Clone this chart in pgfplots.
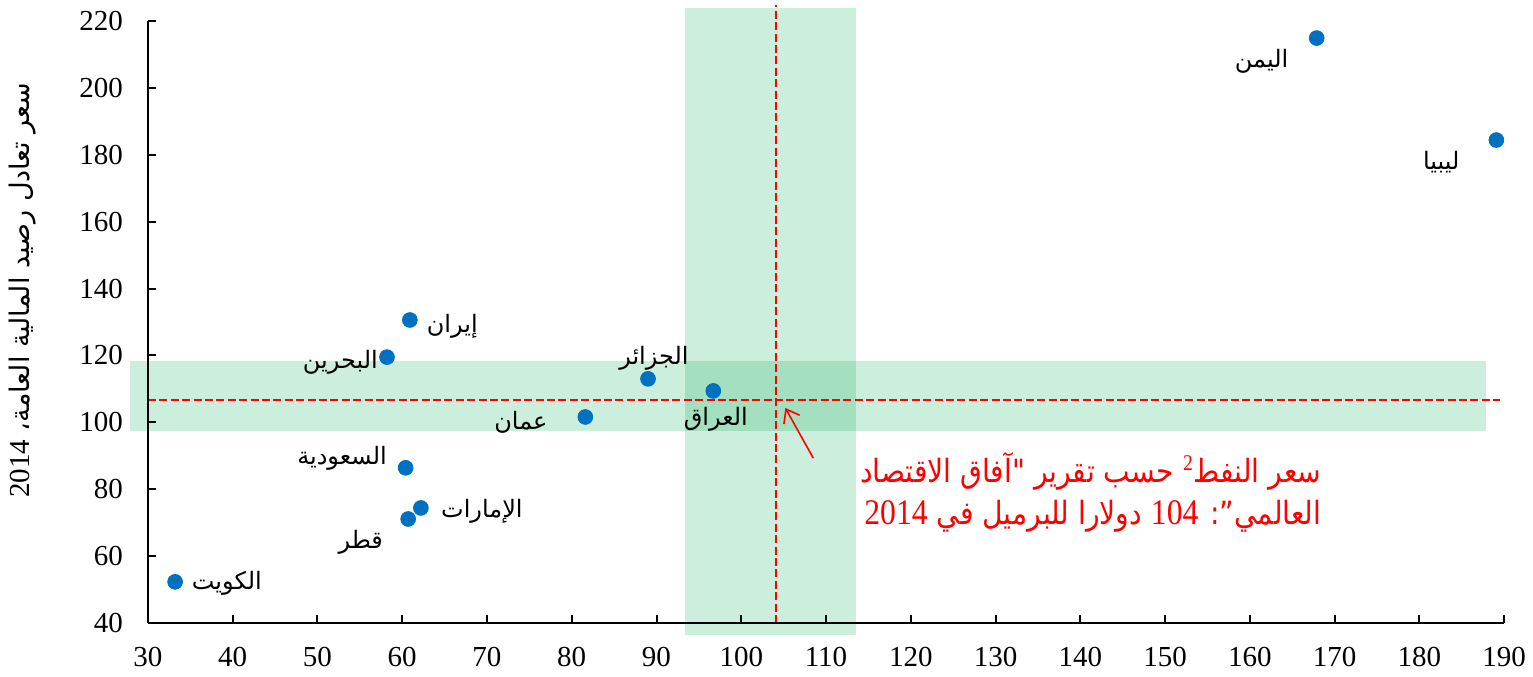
\documentclass[border=0pt]{standalone}
\usepackage{fontspec}
\usepackage{graphicx}
\setmainfont{Liberation Serif}
\newfontfamily\arabicfont[Script=Arabic]{DejaVu Sans}
\newfontfamily\latinserif{Liberation Serif}
\usepackage{pgfplots}
\pgfplotsset{compat=1.18}
\usetikzlibrary{arrows.meta}
\TeXXeTstate=1
\definecolor{ptblue}{RGB}{0,112,192}
\definecolor{bandgreen}{RGB}{0,170,80}
\newcommand{\ar}[1]{{\arabicfont\beginR #1\endR}}
\newcommand{\num}[1]{\beginL{\latinserif\fontsize{18}{21}\selectfont #1}\endL{}}
\begin{document}
\begin{tikzpicture}
\useasboundingbox (-74pt,-26.5pt) rectangle (692.5pt,311.5pt);
\begin{axis}[
  at={(0,0)}, anchor=south west,
  scale only axis, width=678pt, height=301pt,
  xmin=30, xmax=190, ymin=40, ymax=220,
  axis lines=left, axis line style={-, line width=1.3pt, black},
  xtick={30,40,...,190}, ytick={40,60,...,220},
  tick align=inside, major tick length=4pt, tick style={line width=1pt, black},
  ticklabel style={font=\fontsize{14.5}{16}\selectfont},
  /pgf/number format/assume math mode=true,
  xticklabel style={yshift=-8.5pt},
  yticklabel style={xshift=-9pt},
  clip=false, axis on top,
  ylabel={{\arabicfont\beginR سعر تعادل رصيد المالية العامة، \beginL{\latinserif\fontsize{14.5}{16}\selectfont 2014}\endL\endR}},
  ylabel style={at={(axis description cs:-0.0925,0.553)}, anchor=center, font=\fontsize{13.5}{15}\selectfont},
]
% bands
\addplot[draw=none, fill=bandgreen, fill opacity=0.2] coordinates {(27.9,97.4) (187.9,97.4) (187.9,118.3) (27.9,118.3)} -- cycle;
\addplot[draw=none, fill=bandgreen, fill opacity=0.2] coordinates {(93.4,36.4) (113.5,36.4) (113.5,223.9) (93.4,223.9)} -- cycle;
% reference lines
\addplot[red, line width=0.9pt, dash pattern=on 4pt off 1.7pt] coordinates {(30,106.7) (189.5,106.7)};
\addplot[red, line width=0.9pt, dash pattern=on 4pt off 1.7pt] coordinates {(104.1,40) (104.1,224.8)};
% points
\addplot[only marks, mark=*, mark size=3.7pt, color=ptblue, mark options={draw=ptblue, fill=ptblue}] coordinates {
 (167.9,214.9) (189.1,184.4) (60.9,130.6) (58.2,119.5) (89.0,113.0) (96.7,109.4)
 (81.6,101.6) (60.4,86.4) (62.2,74.4) (60.7,71.1) (33.2,52.3)
};
% labels
\begin{scope}[font=\fontsize{12}{14}\selectfont]
\node at (axis cs:161.4,207.8) {\ar{اليمن}};
\node at (axis cs:182.6,177.9) {\ar{ليبيا}};
\node at (axis cs:65.9,128.8) {\ar{إيران}};
\node at (axis cs:52.7,118.0) {\ar{البحرين}};
\node at (axis cs:89.7,119.2) {\ar{الجزائر}};
\node at (axis cs:97.0,101.0) {\ar{العراق}};
\node at (axis cs:74.0,100.1) {\ar{عمان}};
\node at (axis cs:52.9,89.3) {\ar{السعودية}};
\node at (axis cs:69.4,73.5) {\ar{الإمارات}};
\node at (axis cs:55.1,64.2) {\ar{قطر}};
\node at (axis cs:39.3,52.0) {\ar{الكويت}};
\end{scope}
% annotation
\draw[red, line width=0.8pt, -{Straight Barb[length=6pt,width=9pt]}] (axis cs:108.5,89.3) -- (axis cs:105.2,104.3);
\node[red, anchor=east, inner sep=0pt, font=\fontsize{16}{21}\selectfont] at (axis cs:168.5,78.3)
 {\scalebox{0.88}[1]{\begin{tabular}{@{}r@{}}
  \ar{سعر النفط\textsuperscript{\latinserif 2} حسب تقرير "آفاق الاقتصاد}\\
  \ar{العالمي”: \num{104} دولارا للبرميل في \num{2014}}
 \end{tabular}}};
\end{axis}
\end{tikzpicture}
\end{document}
